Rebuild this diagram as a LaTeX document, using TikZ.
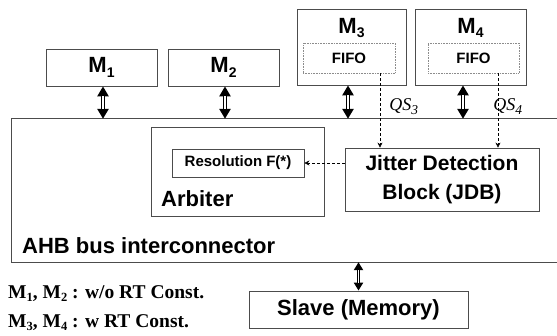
\documentclass[tikz,border=0pt]{standalone}
\usepackage{fontspec}
\setmainfont{Liberation Serif}
\newfontfamily\arialfont{Liberation Sans}
\usetikzlibrary{arrows.meta,positioning}

\newcommand{\lowsub}[1]{\raisebox{-0.4ex}{\fontsize{14}{14}\selectfont #1}}
\newcommand{\notesub}[1]{\raisebox{-0.3ex}{\fontsize{12.5}{12.5}\selectfont #1}}

\tikzset{
  blk/.style={draw=black!70, line width=0.8pt, inner sep=0pt},
  lbl/.style={font=\arialfont\bfseries\fontsize{22}{24}\selectfont},
  smalllbl/.style={font=\arialfont\bfseries\fontsize{15}{16}\selectfont},
  fifobox/.style={draw=black!45, densely dotted, line width=0.6pt, inner sep=0pt,
    minimum width=92pt, minimum height=30pt, smalllbl},
  busarrow/.style={line width=4.5pt, {Triangle[length=10pt,width=11pt]}-{Triangle[length=10pt,width=11pt]},
    postaction={draw=white, line width=1.8pt, -, shorten <=10pt, shorten >=10pt}},
  slavearrow/.style={line width=3.6pt, {Triangle[length=8pt,width=9pt]}-{Triangle[length=8pt,width=9pt]},
    postaction={draw=white, line width=1.4pt, -, shorten <=8pt, shorten >=8pt}},
  sig/.style={densely dashed, line width=0.6pt, -{Stealth[length=5pt,width=5pt]}},
  qs/.style={font=\itshape\fontsize{18}{18}\selectfont, inner sep=0pt}
}

\begin{document}
\begin{tikzpicture}[x=1pt,y=-1pt]
  \useasboundingbox (0,0) rectangle (557,335);

  % masters
  \node[blk,lbl,minimum width=111pt,minimum height=37pt] (m1) at (101.5,67.5) {M\lowsub{1}};
  \node[blk,lbl,minimum width=111pt,minimum height=37pt] (m2) at (223.5,67.5) {M\lowsub{2}};
  \node[blk,minimum width=109pt,minimum height=76pt] (m3) at (351.5,47) {};
  \node[blk,minimum width=111pt,minimum height=76pt] (m4) at (470.5,47) {};
  \node[lbl,inner sep=0pt] (m3lbl) at (351.5,28) {M\lowsub{3}};
  \node[lbl,inner sep=0pt] (m4lbl) at (470.5,28) {M\lowsub{4}};
  \node[fifobox] (fifo3) at (349,58) {FIFO};
  \node[fifobox,minimum width=91pt] (fifo4) at (473.5,58) {FIFO};

  % bus interconnector (open to the right)
  \node[minimum width=545pt,minimum height=143pt,inner sep=0pt] (bus) at (284.5,190.5) {};
  \draw[draw=black!70,line width=0.8pt] (bus.north east) -- (bus.north west) -- (bus.south west) -- (bus.south east);
  \node[lbl,inner sep=0pt,anchor=west] (ahb) at (22,246) {AHB bus interconnector};

  % arbiter
  \node[blk,minimum width=173pt,minimum height=89pt] (arb) at (237.5,171.5) {};
  \node[lbl,inner sep=0pt,anchor=west] (arblbl) at (161,199) {Arbiter};
  \node[blk,smalllbl,minimum width=132pt,minimum height=28pt] (res) at (238,163) {Resolution F(*)};

  % jitter detection
  \node[blk,minimum width=194pt,minimum height=63pt,align=center,
    font=\arialfont\bfseries\fontsize{21}{29}\selectfont] (jdb) at (442,179.5) {Jitter Detection\\Block (JDB)};

  % slave
  \node[blk,lbl,minimum width=219pt,minimum height=37pt] (slave) at (358.5,309.5) {Slave (Memory)};

  % bus arrows
  \coordinate (p1) at ([xshift=1.5pt]m1.south);
  \coordinate (p2) at ([xshift=1.5pt]m2.south);
  \coordinate (p3) at ([xshift=-3.5pt]m3.south);
  \coordinate (p4) at ([xshift=-7.5pt]m4.south);
  \draw[busarrow] (p1) -- (p1 |- bus.north);
  \draw[busarrow] (p2) -- (p2 |- bus.north);
  \draw[busarrow] (p3) -- (p3 |- bus.north);
  \draw[busarrow] (p4) -- (p4 |- bus.north);
  \draw[slavearrow] (bus.south -| slave.north) -- (slave.north);

  % queue status signals
  \coordinate (q3) at ([xshift=31pt]fifo3.south);
  \coordinate (q4) at ([xshift=24.5pt]fifo4.south);
  \draw[sig] (q3) -- (q3 |- jdb.north) node[qs,pos=0.45,right,xshift=9pt] (qs3) {QS\raisebox{-0.45ex}{\fontsize{13.5}{13.5}\selectfont 3}};
  \draw[sig] (q4) -- (q4 |- jdb.north) node[qs,pos=0.45,right,xshift=-5pt] (qs4) {QS\raisebox{-0.45ex}{\fontsize{13.5}{13.5}\selectfont 4}};
  \draw[sig] (jdb.west |- res.east) -- (res.east);

  % notes
  \node[anchor=west,inner sep=0pt,font=\bfseries\fontsize{19.5}{19.5}\selectfont] (note1) at (8,294) {M\notesub{1}, M\notesub{2} : w/o RT Const.};
  \node[anchor=west,inner sep=0pt,font=\bfseries\fontsize{19.5}{19.5}\selectfont] (note2) at (8,322.5) {M\notesub{3}, M\notesub{4} : w RT Const.};
\end{tikzpicture}
\end{document}
